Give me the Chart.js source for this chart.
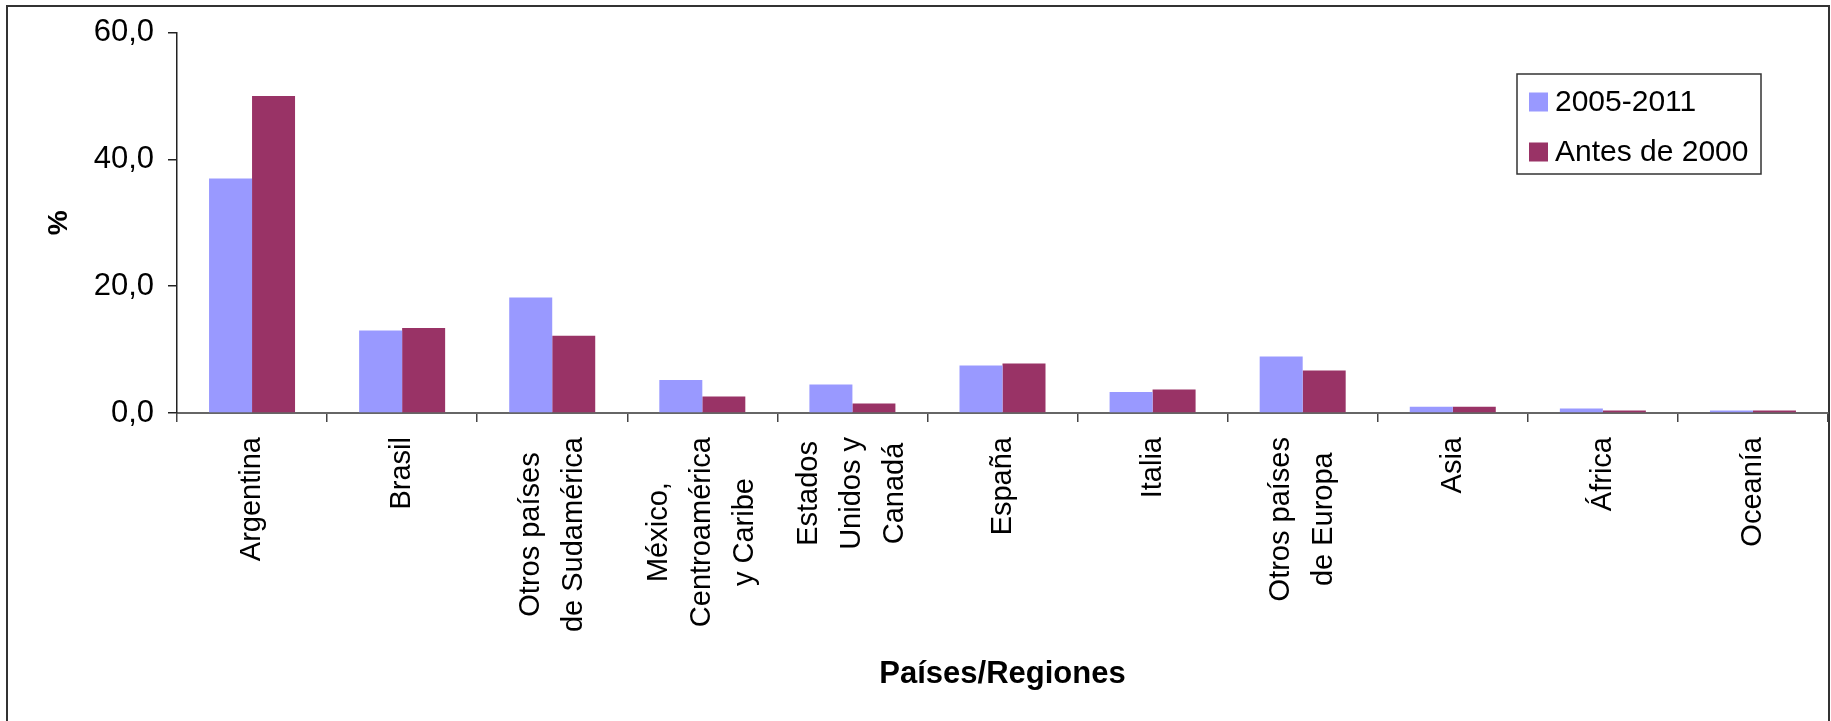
<!DOCTYPE html>
<html>
<head>
<meta charset="utf-8">
<script src="https://cdn.jsdelivr.net/npm/chart.js@4/dist/chart.umd.min.js"></script>
<style>
  body { margin: 0; background: #fff; }
  #wrap { width: 1831px; height: 721px; position: relative; }
</style>
</head>
<body>
<div id="wrap"><canvas id="myChart"></canvas></div>
<script>
// Data
const categories = [
    ['Argentina'],
    ['Brasil'],
    ['Otros países', 'de Sudamérica'],
    ['México,', 'Centroamérica', 'y Caribe'],
    ['Estados', 'Unidos y', 'Canadá'],
    ['España'],
    ['Italia'],
    ['Otros países', 'de Europa'],
    ['Asia'],
    ['África'],
    ['Oceanía']
];
const recent = [37.0, 13.0, 18.2, 5.2, 4.5, 7.5, 3.3, 8.9, 1.0, 0.7, 0.4];   // 2005-2011
const before = [50.0, 13.4, 12.2, 2.6, 1.5, 7.8, 3.7, 6.7, 1.0, 0.4, 0.4];   // Antes de 2000
const seriesNames = ['2005-2011', 'Antes de 2000'];
const yTickLabels = ['0,0', '20,0', '40,0', '60,0'];

const FONT = '"Liberation Sans", Arial, sans-serif';

// white page + outer frame of the chart
const framePlugin = {
    id: 'frame',
    beforeDraw(chart) {
        const ctx = chart.ctx;
        ctx.save();
        ctx.fillStyle = '#fff';
        ctx.fillRect(0, 0, chart.width, chart.height);
        ctx.strokeStyle = '#333';
        ctx.lineWidth = 2;
        ctx.strokeRect(7, 6, 1822, 760);
        ctx.restore();
    }
};

// rotated, centred multi-line category labels
const xLabelPlugin = {
    id: 'xLabels',
    afterDraw(chart) {
        const ctx = chart.ctx;
        const xs = chart.scales.x;
        const top = xs.top + 24;
        const gap = 43;
        ctx.save();
        ctx.font = '29px ' + FONT;
        ctx.fillStyle = '#000';
        ctx.textAlign = 'center';
        ctx.textBaseline = 'middle';
        chart.data.labels.forEach((lines, i) => {
            const cx = xs.getPixelForValue(i);
            const w = Math.max(...lines.map(l => ctx.measureText(l).width));
            ctx.save();
            ctx.translate(cx, top + w / 2);
            ctx.rotate(-Math.PI / 2);
            lines.forEach((l, j) => ctx.fillText(l, 0, (j - (lines.length - 1) / 2) * gap));
            ctx.restore();
        });
        ctx.restore();
    }
};

// boxed legend sitting inside the plot
const legendPlugin = {
    id: 'boxLegend',
    afterDraw(chart) {
        const ctx = chart.ctx;
        ctx.save();
        ctx.strokeStyle = '#333';
        ctx.lineWidth = 1.5;
        ctx.fillStyle = '#fff';
        ctx.fillRect(1517, 74, 244, 100);
        ctx.strokeRect(1517, 74, 244, 100);
        ctx.font = '30px ' + FONT;
        ctx.textBaseline = 'middle';
        chart.data.datasets.forEach((ds, i) => {
            const cy = 102 + i * 50;
            ctx.fillStyle = ds.backgroundColor;
            ctx.fillRect(1529, cy - 9.5, 19, 19);
            ctx.fillStyle = '#000';
            ctx.fillText(ds.label, 1555, cy + 1);
        });
        ctx.restore();
    }
};

const ctx = document.getElementById('myChart').getContext('2d');
new Chart(ctx, {
    type: 'bar',
    data: {
        labels: categories,
        datasets: [
            { label: seriesNames[0], data: recent, backgroundColor: '#9999FF' },
            { label: seriesNames[1], data: before, backgroundColor: '#993366' }
        ]
    },
    options: {
        responsive: true,
        maintainAspectRatio: false,
        animation: false,
        layout: { padding: { top: 32, right: 3, bottom: 0, left: 0 } },
        categoryPercentage: 0.573,
        barPercentage: 1.0,
        plugins: {
            legend: { display: false },
            tooltip: { enabled: false }
        },
        scales: {
            x: {
                ticks: { display: false },
                grid: { drawOnChartArea: false, tickLength: 9, color: '#444', lineWidth: 1.5 },
                border: { color: '#666', width: 2 },
                title: {
                    display: true,
                    text: 'Países/Regiones',
                    color: '#000',
                    font: { family: FONT, size: 31, weight: 'bold' },
                    padding: { top: 0, bottom: 28 }
                },
                afterFit(scale) { scale.height = 308; }
            },
            y: {
                min: 0,
                max: 60,
                ticks: {
                    stepSize: 20,
                    padding: 14,
                    color: '#000',
                    font: { family: FONT, size: 31 },
                    callback: (v, i) => yTickLabels[i]
                },
                grid: { drawOnChartArea: false, tickLength: 9, color: '#222', lineWidth: 1.5 },
                border: { color: '#222', width: 1.5 },
                title: {
                    display: true,
                    text: '%',
                    color: '#000',
                    font: { family: FONT, size: 28, weight: 'bold' },
                    padding: { top: 42, bottom: 0 }
                },
                afterFit(scale) { scale.width = 177; }
            }
        }
    },
    plugins: [framePlugin, xLabelPlugin, legendPlugin]
});
</script>
</body>
</html>
